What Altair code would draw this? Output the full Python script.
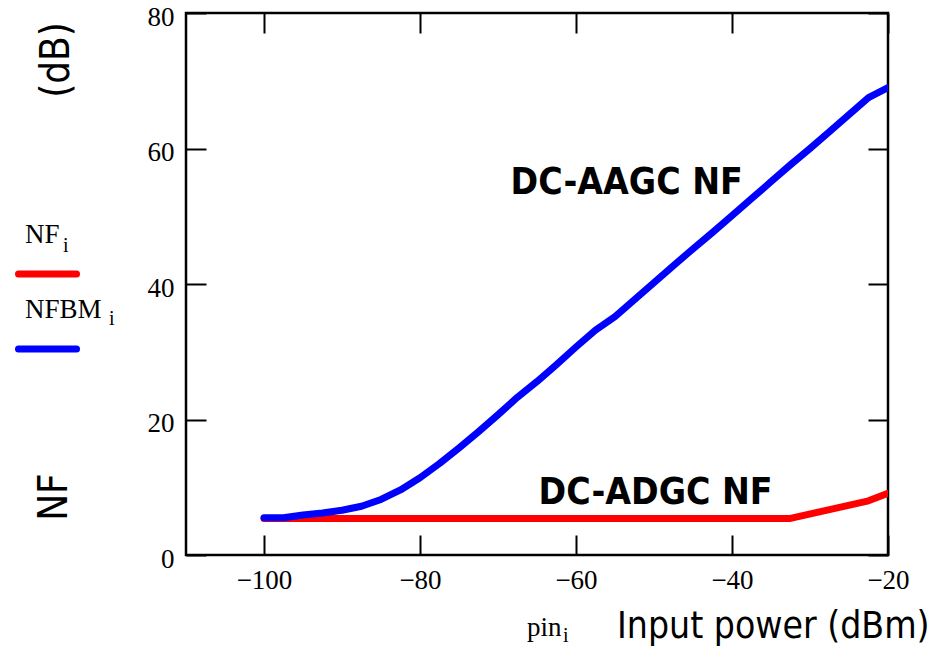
import altair as alt
import pandas as pd

# ---- data ----
pin_nf = [-100, -32.5, -27.5, -22.5, -20]
nf_vals = [5.4, 5.4, 6.7, 8.0, 9.1]

pin_bm = [-100, -97.5, -95, -92.5, -90, -87.5, -85, -82.5, -80, -77.5, -75,
          -72.5, -70, -67.5, -65, -62.5, -60, -57.5, -55, -52.5, -50, -47.5,
          -45, -42.5, -40, -37.5, -35, -32.5, -30, -27.5, -25, -22.5, -20]
nfbm_vals = [5.5, 5.5, 5.9, 6.2, 6.6, 7.2, 8.2, 9.6, 11.4, 13.5, 15.8,
             18.2, 20.7, 23.3, 25.6, 28.1, 30.7, 33.2, 35.2, 37.7, 40.2, 42.7,
             45.2, 47.6, 50.1, 52.6, 55.1, 57.6, 60.0, 62.5, 65.0, 67.5, 69.0]

x_ticks = [-100, -80, -60, -40, -20]
y_ticks = [0, 20, 40, 60, 80]

annot_text = ["DC-AAGC NF", "DC-ADGC NF"]
annot_x = [-53.5, -49.8]
annot_y = [53.3, 7.5]

W, H = 702, 542
L, T = 186, 13
SANS = "DejaVu Sans Condensed, DejaVu Sans"
SERIF = "Liberation Serif"

df_nf = pd.DataFrame({"pin": pin_nf, "NF": nf_vals})
df_bm = pd.DataFrame({"pin": pin_bm, "NF": nfbm_vals})
df_ann = pd.DataFrame({"t": annot_text, "pin": annot_x, "NF": annot_y})

x_scale = alt.Scale(domain=[-110, -20], nice=False, zero=False)
y_scale = alt.Scale(domain=[0, 80], nice=False, zero=False)

x_axis = alt.Axis(values=x_ticks, title=None, format="d", grid=True,
                  gridColor="black", gridWidth=2, gridOpacity=1,
                  gridDash=[20, H - 40], ticks=False, domain=False,
                  labelFont=SERIF, labelFontSize=27, labelColor="black",
                  labelPadding=12, labelFlush=False, labelOverlap=False)
y_axis = alt.Axis(values=y_ticks, title=None, format="d", grid=True,
                  gridColor="black", gridWidth=2, gridOpacity=1,
                  gridDash=[20, W - 40], ticks=False, domain=False,
                  labelFont=SERIF, labelFontSize=27, labelColor="black",
                  labelPadding=12, labelOffset=4, labelFlush=False,
                  labelOverlap=False)

X = alt.X("pin:Q", scale=x_scale, axis=x_axis)
Y = alt.Y("NF:Q", scale=y_scale, axis=y_axis)

red = alt.Chart(df_nf).mark_line(color="#ff0000", strokeWidth=7,
                                  strokeCap="round", strokeJoin="round",
                                  clip=True).encode(x=X, y=Y)
blue = alt.Chart(df_bm).mark_line(color="#0000ff", strokeWidth=7,
                                  strokeCap="round", strokeJoin="round",
                                  clip=True).encode(x=X, y=Y)

ann = alt.Chart(df_ann).mark_text(font=SANS, fontSize=37, fontWeight="bold",
                                  color="black", align="center",
                                  baseline="alphabetic").encode(
    x=alt.X("pin:Q", scale=x_scale), y=alt.Y("NF:Q", scale=y_scale), text="t:N")

one = pd.DataFrame({"a": [0]})


def txt(s, x, y, font=SERIF, size=27, angle=0, align="left",
        baseline="alphabetic", weight="normal"):
    return alt.Chart(pd.DataFrame({"t": [s]})).mark_text(
        font=font, fontSize=size, angle=angle, align=align,
        baseline=baseline, fontWeight=weight, color="black").encode(
        text="t:N", x=alt.value(x - L), y=alt.value(y - T))


def seg(color, x1, x2, y):
    return alt.Chart(one).mark_rule(color=color, strokeWidth=7,
                                    strokeCap="round").encode(
        x=alt.value(x1 - L), x2=alt.value(x2 - L), y=alt.value(y - T))


# positions below are absolute page pixels, converted to plot-relative above
extras = [
    # legend
    txt("NF", 25, 243),
    txt("i", 63, 252, size=20),
    seg("#ff0000", 18.5, 76.5, 274),
    txt("NFBM", 25, 318),
    txt("i", 109, 325, size=20),
    seg("#0000ff", 18.5, 76.5, 349),
    # y title
    txt("NF", 55, 497, font=SANS, size=40, angle=270, align="center",
        baseline="middle"),
    txt("(dB)", 57, 60, font=SANS, size=40, angle=270, align="center",
        baseline="middle"),
    # x title
    txt("pin", 527, 636),
    txt("i", 563, 642, size=20),
    txt("Input power (dBm)", 617, 638, font=SANS, size=37),
]

chart = alt.layer(red, blue, ann, *extras).properties(
    width=W, height=H,
    autosize=alt.AutoSizeParams(type="none"),
    padding={"left": L, "top": T, "right": 944 - L - W, "bottom": 648 - T - H},
    background="white",
).configure_view(stroke="black", strokeWidth=2.5)

chart.save("out.html", embed_options={"renderer": "svg", "actions": False})
